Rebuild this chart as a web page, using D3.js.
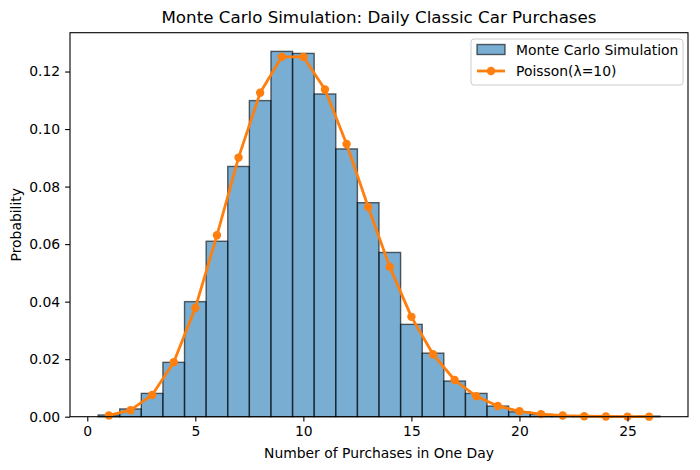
<!DOCTYPE html>
<html lang="en">
<head>
<meta charset="UTF-8">
<title>Monte Carlo Simulation: Daily Classic Car Purchases</title>
<script src="https://d3js.org/d3.v7.min.js"></script>
<style>
    body { margin: 0; background: #fff; }
    text { font-family: "DejaVu Sans", sans-serif; }
</style>
</head>
<body>
<script>
    // histogram bins (centre = purchases per day) and simulated probabilities
    const binCenters = [1, 2, 3, 4, 5, 6, 7, 8, 9, 10, 11, 12, 13, 14, 15, 16, 17, 18, 19, 20, 21, 22, 23, 24, 25, 26];
    const simProb = [0.0006, 0.0027, 0.0081, 0.0189, 0.0400, 0.0610, 0.0870, 0.1099, 0.1270, 0.1263,
                     0.1122, 0.0931, 0.0744, 0.0571, 0.0321, 0.0221, 0.0124, 0.0081, 0.0037, 0.0017,
                     0.0008, 0.0003, 0.0001, 0.0001, 0.0001, 0.0002];
    // Poisson(lambda=10) pmf at k = 1..26
    const poissonK = [1, 2, 3, 4, 5, 6, 7, 8, 9, 10, 11, 12, 13, 14, 15, 16, 17, 18, 19, 20, 21, 22, 23, 24, 25, 26];
    const poissonP = [0.00045, 0.00227, 0.00757, 0.01892, 0.03783, 0.06306, 0.09008, 0.11260, 0.12511, 0.12511,
                      0.11374, 0.09478, 0.07291, 0.05208, 0.03472, 0.02170, 0.01276, 0.00709, 0.00373, 0.00187,
                      0.00089, 0.00040, 0.00018, 0.00007, 0.00003, 0.00001];
    const xTicks = [0, 5, 10, 15, 20, 25];
    const yTicks = [0, 0.02, 0.04, 0.06, 0.08, 0.10, 0.12];

    const width = 700, height = 470;
    const margin = { top: 32.7, right: 12, bottom: 53.3, left: 70 };
    const innerWidth = width - margin.left - margin.right;
    const innerHeight = height - margin.top - margin.bottom;

    const svg = d3.select("body").append("svg")
        .attr("width", width)
        .attr("height", height);
    const g = svg.append("g")
        .attr("transform", `translate(${margin.left},${margin.top})`);

    const x = d3.scaleLinear().domain([-0.8, 27.8]).range([0, innerWidth]);
    const y = d3.scaleLinear().domain([0, 0.1335]).range([innerHeight, 0]);

    // bars
    g.selectAll(".bar")
        .data(binCenters.map((c, i) => ({ c, p: simProb[i] })))
        .enter().append("rect")
        .attr("class", "bar")
        .attr("x", d => x(d.c - 0.5))
        .attr("width", d => x(d.c + 0.5) - x(d.c - 0.5))
        .attr("y", d => y(d.p))
        .attr("height", d => innerHeight - y(d.p))
        .attr("fill", "#1f77b4")
        .attr("fill-opacity", 0.6)
        .attr("stroke", "#000")
        .attr("stroke-opacity", 0.6)
        .attr("stroke-width", 1.4);

    // poisson line
    const pts = poissonK.map((k, i) => [k, poissonP[i]]);
    g.append("path")
        .datum(pts)
        .attr("fill", "none")
        .attr("stroke", "#ff7f0e")
        .attr("stroke-width", 2.8)
        .attr("stroke-linejoin", "round")
        .attr("d", d3.line().x(d => x(d[0])).y(d => y(d[1])));
    g.selectAll(".pt")
        .data(pts)
        .enter().append("circle")
        .attr("class", "pt")
        .attr("cx", d => x(d[0]))
        .attr("cy", d => y(d[1]))
        .attr("r", 4.2)
        .attr("fill", "#ff7f0e");

    // axes
    const xAxis = g.append("g")
        .attr("transform", `translate(0,${innerHeight})`)
        .call(d3.axisBottom(x).tickValues(xTicks).tickSize(4.9).tickPadding(4.9).tickFormat(d3.format("d")));
    const yAxis = g.append("g")
        .call(d3.axisLeft(y).tickValues(yTicks).tickSize(4.9).tickPadding(4.9).tickFormat(d3.format(".2f")));
    [xAxis, yAxis].forEach(a => {
        a.select(".domain").remove();
        a.selectAll("line").attr("stroke", "#000").attr("stroke-width", 1.1);
        a.selectAll("text").style("font-size", "13.9px").attr("fill", "#000")
            .style("font-family", "'DejaVu Sans', sans-serif");
    });

    // frame
    g.append("rect")
        .attr("width", innerWidth)
        .attr("height", innerHeight)
        .attr("fill", "none")
        .attr("stroke", "#000")
        .attr("stroke-width", 1.1);

    // title and labels
    svg.append("text")
        .attr("x", margin.left + innerWidth / 2)
        .attr("y", 23)
        .attr("text-anchor", "middle")
        .style("font-size", "16.7px")
        .text("Monte Carlo Simulation: Daily Classic Car Purchases");
    svg.append("text")
        .attr("x", margin.left + innerWidth / 2)
        .attr("y", 458)
        .attr("text-anchor", "middle")
        .style("font-size", "13.9px")
        .text("Number of Purchases in One Day");
    svg.append("text")
        .attr("transform", `translate(21,${margin.top + innerHeight / 2}) rotate(-90)`)
        .attr("text-anchor", "middle")
        .style("font-size", "13.9px")
        .text("Probability");

    // legend
    const lg = svg.append("g").attr("transform", "translate(471,39)");
    lg.append("rect")
        .attr("width", 212).attr("height", 46).attr("rx", 3)
        .attr("fill", "#fff").attr("fill-opacity", 0.8)
        .attr("stroke", "#ccc").attr("stroke-width", 1);
    lg.append("rect")
        .attr("x", 6).attr("y", 5.5).attr("width", 28).attr("height", 10)
        .attr("fill", "#1f77b4").attr("fill-opacity", 0.6)
        .attr("stroke", "#000").attr("stroke-opacity", 0.6).attr("stroke-width", 1.4);
    lg.append("line")
        .attr("x1", 6).attr("x2", 34).attr("y1", 32).attr("y2", 32)
        .attr("stroke", "#ff7f0e").attr("stroke-width", 2.8);
    lg.append("circle").attr("cx", 20).attr("cy", 32).attr("r", 4.2).attr("fill", "#ff7f0e");
    lg.append("text").attr("x", 45).attr("y", 16).style("font-size", "13.9px").text("Monte Carlo Simulation");
    lg.append("text").attr("x", 45).attr("y", 37).style("font-size", "13.9px").text("Poisson(λ=10)");
</script>
</body>
</html>
